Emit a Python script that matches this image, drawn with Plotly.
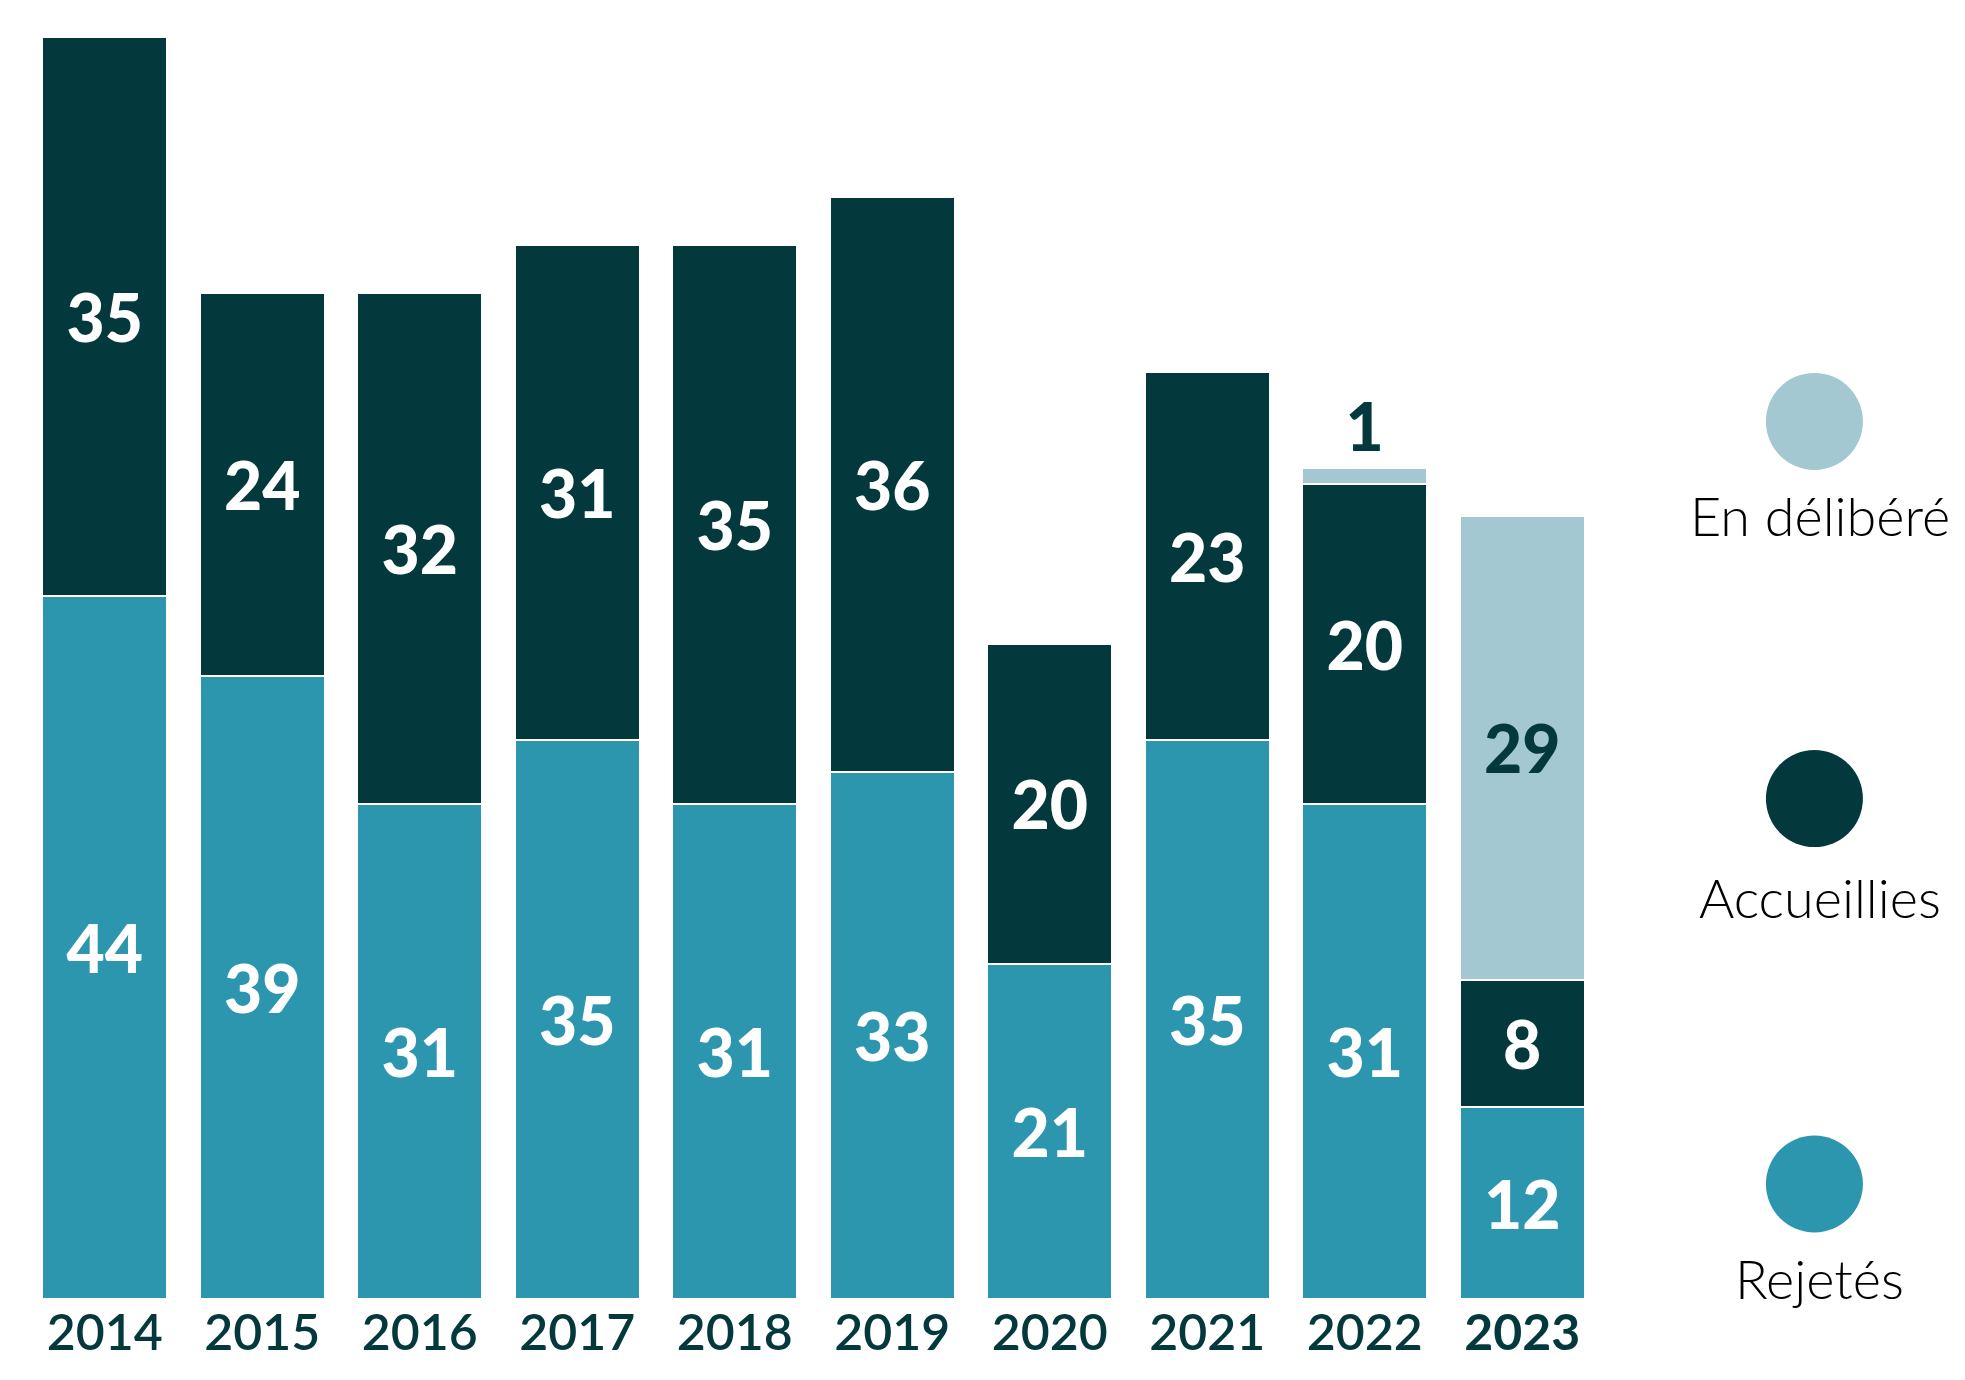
import plotly.graph_objects as go

years = ["2014", "2015", "2016", "2017", "2018", "2019", "2020", "2021", "2022", "2023"]
tick_labels = ["2014", "2015", "2016", "2017", "2018", "2019", "2020", "2021", "2022", "<b>2023</b>"]
rejetes = [44, 39, 31, 35, 31, 33, 21, 35, 31, 12]
accueillies = [35, 24, 32, 31, 35, 36, 20, 23, 20, 8]
deliberes = [None, None, None, None, None, None, None, None, 1, 29]
legend_names = ["En délibéré", "Accueillies", "Rejetés"]

DARK = "#03393C"
MID = "#2C96AF"
LIGHT = "#A3C8D2"
W, H = 1965, 1380
ML, MR, MT, MB = 18, W - 18 - 1575, 21, 89

label_font = dict(family="Lato", size=66, weight=900)

fig = go.Figure()
fig.add_trace(go.Bar(
    x=years, y=rejetes, name=legend_names[2], marker=dict(color=MID, line=dict(color="white", width=2)),
    text=[str(v) for v in rejetes], textposition="inside", insidetextanchor="middle",
    textfont=dict(color="white", **label_font), textangle=0,
))
fig.add_trace(go.Bar(
    x=years, y=accueillies, name=legend_names[1], marker=dict(color=DARK, line=dict(color="white", width=2)),
    text=[str(v) for v in accueillies], textposition="inside", insidetextanchor="middle",
    textfont=dict(color="white", **label_font), textangle=0,
))
fig.add_trace(go.Bar(
    x=years, y=deliberes, name=legend_names[0], marker=dict(color=LIGHT, line=dict(color="white", width=2)),
    text=["" if v is None else str(v) for v in deliberes],
    textposition=["outside" if (v is not None and v < 3) else "inside" for v in deliberes],
    insidetextanchor="middle",
    textfont=dict(color=DARK, **label_font), textangle=0, cliponaxis=False,
))

fig.update_traces(constraintext="none")

fig.update_layout(
    width=W, height=H, barmode="stack", bargap=0.206,
    margin=dict(l=ML, r=MR, t=MT, b=MB, pad=0),
    plot_bgcolor="white", paper_bgcolor="white", showlegend=False,
    xaxis=dict(tickmode="array", tickvals=years, ticktext=tick_labels, showgrid=False, zeroline=False,
               showline=False, ticks="", tickfont=dict(family="Lato", size=50, color=DARK, weight=600),
               range=[-0.5, 9.5]),
    yaxis=dict(range=[0, 79.5], visible=False, showgrid=False, zeroline=False),
)

# custom legend: circles with labels below
leg_colors = [LIGHT, DARK, MID]
circle_y = [0.691, 0.394, 0.0906]
text_y = [0.617, 0.316, 0.0162]
for name, col, cy, ty in zip(legend_names, leg_colors, circle_y, text_y):
    fig.add_shape(type="circle", xref="paper", yref="paper", xsizemode="pixel", ysizemode="pixel",
                  xanchor=1.1355, yanchor=cy, x0=-48.5, x1=48.5, y0=-48.5, y1=48.5,
                  fillcolor=col, line=dict(width=0))
    fig.add_annotation(x=1.139, y=ty, xref="paper", yref="paper", text=name, showarrow=False,
                       xanchor="center", yanchor="middle",
                       font=dict(family="Lato", size=54, color="black", weight=300))

fig.write_html("out.html")
